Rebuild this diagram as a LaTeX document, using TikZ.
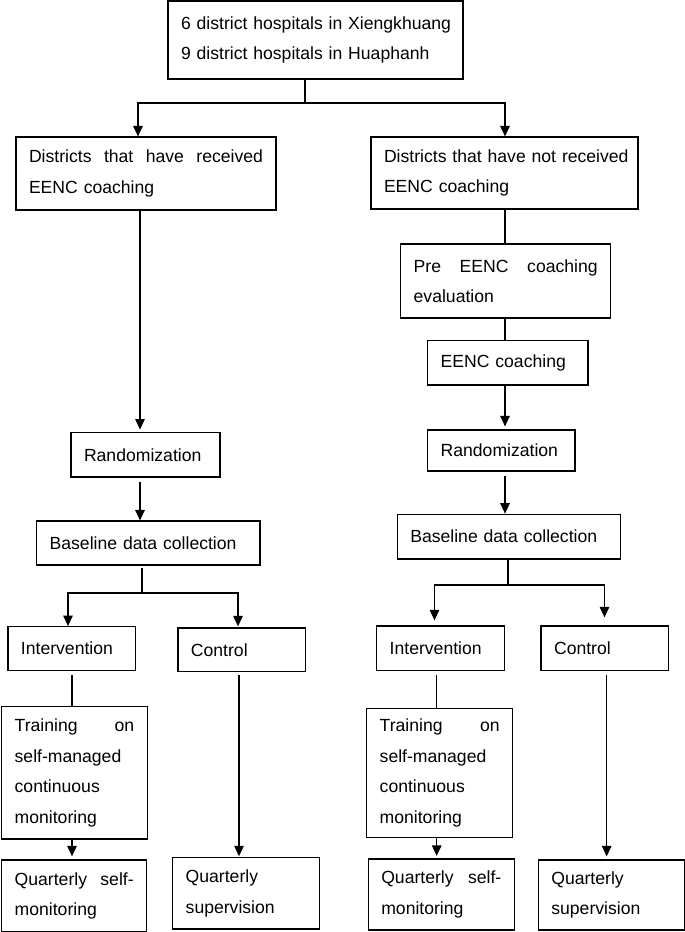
\documentclass[tikz,border=0pt]{standalone}
\usepackage{fontspec}
\setmainfont{Liberation Sans}
\usetikzlibrary{arrows.meta}
\begin{document}
\begin{tikzpicture}[x=1pt,y=-1pt,
  bx/.style={draw, line width=1.2pt, rectangle, inner xsep=13pt, inner ysep=0pt,
    align=left, font=\fontsize{17.6}{30.5}\selectfont},
  ln/.style={line width=1.2pt},
  arr/.style={line width=1.2pt, -{Triangle[width=9.5pt,length=10.5pt]}}]
\useasboundingbox (0,0) rectangle (685,932);

% boxes
\node[bx, text width=269pt, minimum height=78pt] (top) at (315.5,40)
  {\mbox{6 district hospitals in Xiengkhuang}\\9 district hospitals in Huaphanh};
\node[bx, text width=234pt, minimum height=73pt] (dL) at (146,173.5)
  {Districts\hfill that\hfill have\hfill received\\EENC coaching};
\node[bx, text width=241pt, minimum height=72pt] (dR) at (504.5,173)
  {\mbox{Districts that have not received}\\EENC coaching};
\node[bx, text width=184pt, minimum height=74pt] (pre) at (505.7,281)
  {Pre\hfill EENC\hfill coaching\\evaluation};
\node[bx, text width=134.3pt, minimum height=44.3pt] (coach) at (507.8,362.8)
  {EENC coaching};
\node[bx, text width=121.3pt, minimum height=41pt] (randR) at (501.3,450.5)
  {Randomization};
\node[bx, text width=123pt, minimum height=44.3pt] (randL) at (145.5,454.8)
  {Randomization};
\node[bx, text width=197.3pt, minimum height=44pt] (baseL) at (148.3,543)
  {Baseline data collection};
\node[bx, text width=197pt, minimum height=44.7pt] (baseR) at (508.8,536.6)
  {Baseline data collection};
\node[bx, text width=101.7pt, minimum height=44pt] (intL) at (71.8,648.7)
  {Intervention};
\node[bx, text width=101.7pt, minimum height=43.7pt] (conL) at (241.8,649.8)
  {Control};
\node[bx, text width=101.6pt, minimum height=44.7pt] (intR) at (440.5,648.3)
  {Intervention};
\node[bx, text width=101.3pt, minimum height=44.7pt] (conR) at (604.7,648.3)
  {Control};
\node[bx, text width=119.6pt, minimum height=132.3pt] (trL) at (74.5,772.8)
  {Training\hfill on\\self-managed\\continuous\\monitoring};
\node[bx, text width=120pt, minimum height=129pt] (trR) at (439.7,772.8)
  {Training\hfill on\\self-managed\\continuous\\monitoring};
\node[bx, text width=119pt, minimum height=71.7pt] (qsmL) at (74.2,895.8)
  {Quarterly\hfill self-\\monitoring};
\node[bx, text width=120.6pt, minimum height=71.7pt] (qsL) at (246,893.2)
  {Quarterly\\supervision};
\node[bx, text width=120pt, minimum height=71pt] (qsmR) at (441.3,894.5)
  {Quarterly\hfill self-\\monitoring};
\node[bx, text width=120.7pt, minimum height=70pt] (qsR) at (611.7,895)
  {Quarterly\\supervision};

% helper coordinates
\coordinate (j0) at (305,103);
\coordinate (j0L) at (138,103);
\coordinate (j0R) at (505,103);
\coordinate (cL) at (140,0);
\coordinate (cR) at (505,0);
\coordinate (sL) at (142,593);
\coordinate (sLa) at (68,593);
\coordinate (sLb) at (238,593);
\coordinate (sR) at (508,585);
\coordinate (sRa) at (434.5,585);
\coordinate (sRb) at (604.5,585);
\coordinate (xa) at (72,0);
\coordinate (xb) at (239,0);
\coordinate (xc) at (436.7,0);
\coordinate (xd) at (606.7,0);

% top split
\draw[ln] (top.south -| j0) -- (j0);
\draw[arr] (j0) -| (j0L |- dL.north);
\draw[arr] (j0) -| (j0R |- dR.north);

% left column
\draw[arr, shorten >=2.5pt] (dL.south -| cL) -- (randL.north -| cL);
\draw[arr, shorten <=4pt] (randL.south -| cL) -- (baseL.north -| cL);
\draw[ln, shorten <=2.5pt] (baseL.south -| sL) -- (sL);
\draw[arr] (sL) -| (intL.north -| sLa);
\draw[arr, shorten >=1pt] (sL) -| (conL.north -| sLb);
\draw[ln, shorten <=4pt] (intL.south -| xa) -- (trL.north -| xa);
\draw[arr, shorten >=3pt] (trL.south -| xa) -- (qsmL.north -| xa);
\draw[arr, shorten <=3pt, shorten >=0.5pt] (conL.south -| xb) -- (qsL.north -| xb);

% right column
\draw[ln] (dR.south -| cR) -- (pre.north -| cR);
\draw[ln] (pre.south -| cR) -- (coach.north -| cR);
\draw[arr, shorten >=3pt] (coach.south -| cR) -- (randR.north -| cR);
\draw[arr, shorten <=4pt] (randR.south -| cR) -- (baseR.north -| cR);
\draw[ln] (baseR.south -| sR) -- (sR);
\draw[arr, shorten >=5pt] (sR) -| (intR.north -| sRa);
\draw[arr, shorten >=8pt] (sR) -| (conR.north -| sRb);
\draw[ln, shorten <=4pt] (intR.south -| xc) -- (trR.north -| xc);
\draw[arr, shorten >=2.5pt] (trR.south -| xc) -- (qsmR.north -| xc);
\draw[arr, shorten <=4pt, shorten >=3pt] (conR.south -| xd) -- (qsR.north -| xd);
\end{tikzpicture}
\end{document}
